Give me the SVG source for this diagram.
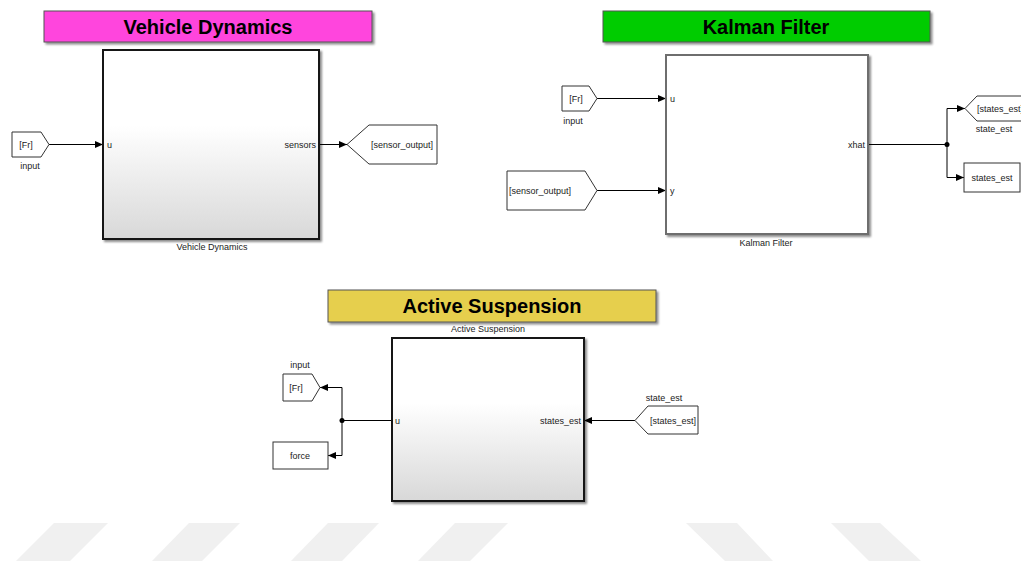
<svg xmlns="http://www.w3.org/2000/svg" width="1021" height="561" viewBox="0 0 1021 561">
  <style>
    .title{font-family:"Liberation Sans",Arial,sans-serif;font-weight:bold;font-size:20px;text-anchor:middle;fill:#000}
    .lbl{font-family:"Liberation Sans",Arial,sans-serif;font-size:9px;fill:#222}
    .mid{text-anchor:middle}
    .end{text-anchor:end}
    .wire{fill:none;stroke:#000;stroke-width:1}
    .tag{fill:#fff;stroke:#333;stroke-width:1}
    .blk{fill:url(#shade);stroke:#141414;stroke-width:2}
    .stripe{fill:#f0f0f0}
  </style>
  <defs>
    <linearGradient id="shade" x1="0" y1="0" x2="0" y2="1">
      <stop offset="0" stop-color="#ffffff"/>
      <stop offset="0.4" stop-color="#ffffff"/>
      <stop offset="1" stop-color="#d8d8d8"/>
    </linearGradient>
    <filter id="drop" x="-10%" y="-10%" width="125%" height="130%">
      <feGaussianBlur in="SourceAlpha" stdDeviation="1.2"/>
      <feOffset dx="2" dy="2" result="b"/>
      <feComponentTransfer><feFuncA type="linear" slope="0.45"/></feComponentTransfer>
      <feMerge><feMergeNode/><feMergeNode in="SourceGraphic"/></feMerge>
    </filter>
    <marker id="arr" viewBox="0 0 8 7" refX="8" refY="3.5" markerWidth="8" markerHeight="7" markerUnits="userSpaceOnUse" orient="auto">
      <path d="M0,0 L8,3.5 L0,7 Z" fill="#000"/>
    </marker>
  </defs>

  <rect width="1021" height="561" fill="#fff"/>

  <!-- background stripes along the lower edge -->
  <g id="stripes">
    <polygon class="stripe" points="54,523 108,523 70,561 16,561"/>
    <polygon class="stripe" points="189,523 240,523 202,561 152,561"/>
    <polygon class="stripe" points="328,523 379,523 342,561 291,561"/>
    <polygon class="stripe" points="455,523 508,523 470,561 418,561"/>
    <polygon class="stripe" points="686,523 737,523 773,561 725,561"/>
    <polygon class="stripe" points="831,523 880,523 921,561 869,561"/>
  </g>

  <!-- area titles -->
  <g id="title-vehicle">
    <rect x="44" y="11" width="328" height="31" fill="#ff44dd" stroke="#555" stroke-width="1" filter="url(#drop)"/>
    <text class="title" x="208" y="34">Vehicle Dynamics</text>
  </g>
  <g id="title-kalman">
    <rect x="603" y="11" width="327" height="31" fill="#00cc00" stroke="#555" stroke-width="1" filter="url(#drop)"/>
    <text class="title" x="766" y="34">Kalman Filter</text>
  </g>
  <g id="title-suspension">
    <rect x="328" y="290" width="328" height="32" fill="#e6cf4e" stroke="#555" stroke-width="1" filter="url(#drop)"/>
    <text class="title" x="492" y="313">Active Suspension</text>
  </g>

  <!-- connectors -->
  <g id="connectors">
    <path class="wire" d="M49,144.5 H103" marker-end="url(#arr)"/>
    <path class="wire" d="M319,144.5 H347" marker-end="url(#arr)"/>
    <path class="wire" d="M597,98.5 H666" marker-end="url(#arr)"/>
    <path class="wire" d="M597,190.5 H666" marker-end="url(#arr)"/>
    <path class="wire" d="M868,144.5 H947"/>
    <path class="wire" d="M947,144.5 V108.5 H965" marker-end="url(#arr)"/>
    <path class="wire" d="M947,144.5 V177.5 H964" marker-end="url(#arr)"/>
    <circle cx="947" cy="144.5" r="2.5" fill="#000"/>
    <path class="wire" d="M392,420.5 H342"/>
    <path class="wire" d="M342,420.5 V387.5 H320" marker-end="url(#arr)"/>
    <path class="wire" d="M342,420.5 V455.5 H328" marker-end="url(#arr)"/>
    <circle cx="342" cy="420.5" r="2.5" fill="#000"/>
    <path class="wire" d="M635,420.5 H584" marker-end="url(#arr)"/>
  </g>

  <!-- Vehicle Dynamics subsystem -->
  <g id="vd-from-fr">
    <path class="tag" d="M12,132 H41 L49,144.5 L41,157 H12 Z"/>
    <text class="lbl mid" x="26" y="148">[Fr]</text>
    <text class="lbl mid" x="30" y="169">input</text>
  </g>
  <g id="vd-block">
    <rect class="blk" x="103" y="50" width="216" height="189" filter="url(#drop)"/>
    <text class="lbl" x="107" y="148">u</text>
    <text class="lbl end" x="316" y="148">sensors</text>
    <text class="lbl mid" x="212" y="250">Vehicle Dynamics</text>
  </g>
  <g id="vd-goto-sensor">
    <path class="tag" d="M347,144.5 L369,125 H437 V164 H369 Z"/>
    <text class="lbl" x="371" y="148">[sensor_output]</text>
  </g>

  <!-- Kalman Filter subsystem -->
  <g id="kf-from-fr">
    <path class="tag" d="M562,86 H589 L597,98.5 L589,111 H562 Z"/>
    <text class="lbl mid" x="576" y="102">[Fr]</text>
    <text class="lbl mid" x="573" y="124">input</text>
  </g>
  <g id="kf-from-sensor">
    <path class="tag" d="M507,171 H585 L597,190.5 L585,210 H507 Z"/>
    <text class="lbl" x="509" y="193.5">[sensor_output]</text>
  </g>
  <g id="kf-block">
    <rect x="666" y="55" width="202" height="179" fill="#fff" stroke="#6e6e6e" stroke-width="2" filter="url(#drop)"/>
    <text class="lbl" x="670" y="102">u</text>
    <text class="lbl" x="670" y="194">y</text>
    <text class="lbl end" x="865" y="148">xhat</text>
    <text class="lbl mid" x="766" y="246">Kalman Filter</text>
  </g>
  <g id="kf-goto-states">
    <path class="tag" d="M965,108.5 L977,96 H1026 V121 H977 Z"/>
    <text class="lbl" x="977" y="112">[states_est]</text>
    <text class="lbl mid" x="994" y="132">state_est</text>
  </g>
  <g id="kf-out-states">
    <rect class="tag" x="964" y="163" width="56" height="29"/>
    <text class="lbl mid" x="992" y="180.5">states_est</text>
  </g>

  <!-- Active Suspension subsystem -->
  <g id="as-goto-fr">
    <path class="tag" d="M283,374 H312 L320,387.5 L312,401 H283 Z"/>
    <text class="lbl mid" x="296" y="391">[Fr]</text>
    <text class="lbl mid" x="300" y="368">input</text>
  </g>
  <g id="as-out-force">
    <rect class="tag" x="273" y="442" width="55" height="27"/>
    <text class="lbl mid" x="300" y="459">force</text>
  </g>
  <g id="as-block">
    <rect class="blk" x="392" y="338" width="192" height="163" filter="url(#drop)"/>
    <text class="lbl" x="395" y="423.5">u</text>
    <text class="lbl end" x="581" y="423.5">states_est</text>
    <text class="lbl mid" x="488" y="332">Active Suspension</text>
  </g>
  <g id="as-from-states">
    <path class="tag" d="M635,420.5 L648,406 H698 V434 H648 Z"/>
    <text class="lbl" x="650" y="424">[states_est]</text>
    <text class="lbl mid" x="664" y="401">state_est</text>
  </g>
</svg>
